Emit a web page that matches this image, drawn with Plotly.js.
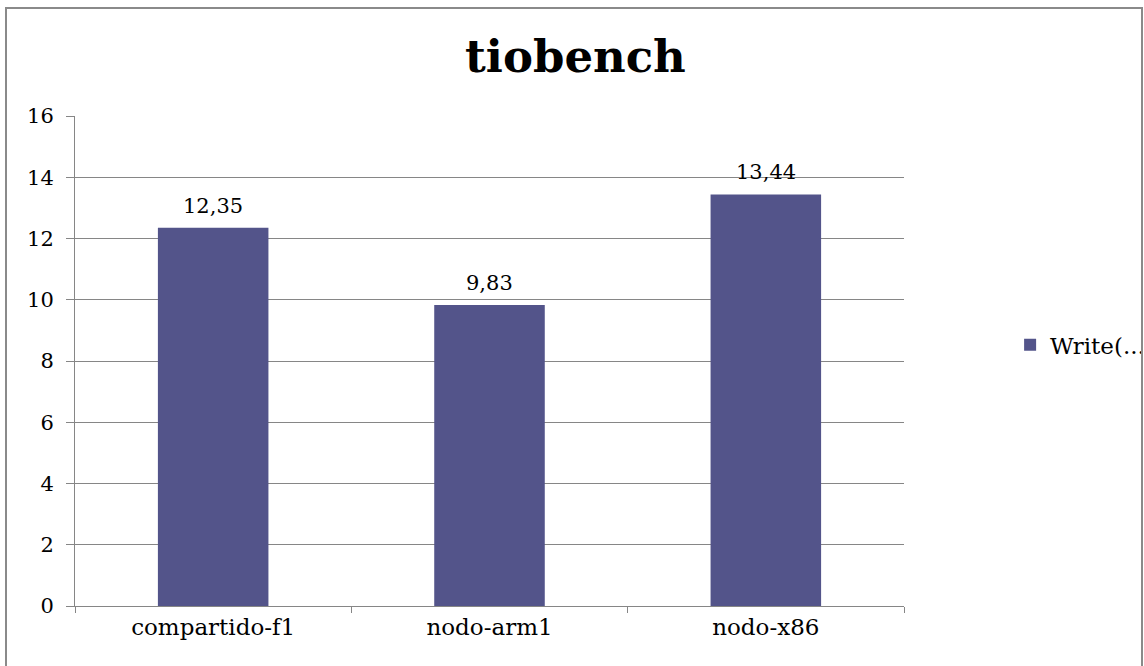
<!DOCTYPE html>
<html>
<head>
<meta charset="utf-8">
<script src="https://cdn.plot.ly/plotly-3.0.1.min.js"></script>
<style>
  html, body { margin: 0; padding: 0; background: #ffffff; }
  #wrap { position: relative; width: 1144px; height: 666px; overflow: hidden; }
  #chart { width: 1144px; height: 666px; }
  #frame {
    position: absolute; left: 5px; top: 7px; width: 1134px; height: 700px;
    border: 2px solid #8a8a8a; pointer-events: none;
  }
  #mask {
    position: absolute; left: 1141px; top: 0; width: 10px; height: 666px;
    background: #ffffff; pointer-events: none;
  }
</style>
</head>
<body>
<div id="wrap">
  <div id="chart"></div>
  <div id="mask"></div>
  <div id="frame"></div>
</div>
<script>
// tiobench write throughput per node
const categories = ['compartido-f1', 'nodo-arm1', 'nodo-x86'];
const writeValues = [12.35, 9.83, 13.44];
const seriesName = 'Write(...';
const yTicks = [0, 2, 4, 6, 8, 10, 12, 14, 16];

const serif = 'Georgia, "DejaVu Serif", serif';
const barColor = '#53548a';
const lineColor = '#868686';

const trace = {
  type: 'bar',
  x: categories,
  y: writeValues,
  name: seriesName,
  marker: { color: barColor },
  showlegend: true,
  hoverinfo: 'none'
};

// value labels sit just above each bar
const labels = categories.map((c, i) => ({
  x: c,
  y: writeValues[i],
  text: writeValues[i].toFixed(2).replace('.', ','),
  showarrow: false,
  yanchor: 'bottom',
  yshift: 8,
  font: { family: serif, size: 21, color: '#000000' }
}));

const layout = {
  width: 1144,
  height: 666,
  margin: { l: 75, r: 240, t: 116, b: 60, autoexpand: false },
  paper_bgcolor: '#ffffff',
  plot_bgcolor: '#ffffff',
  bargap: 0.6,
  title: {
    text: '<b>tiobench</b>',
    font: { family: serif, size: 45, color: '#000000' },
    x: 0.503, xanchor: 'center',
    y: 0.915, yanchor: 'middle'
  },
  xaxis: {
    type: 'category',
    showline: true,
    linecolor: lineColor,
    linewidth: 1,
    ticks: 'outside',
    tickson: 'boundaries',
    ticklen: 6,
    tickcolor: lineColor,
    showgrid: false,
    tickfont: { family: serif, size: 23, color: '#000000' }
  },
  yaxis: {
    range: [0, 16],
    tickvals: yTicks,
    ticktext: yTicks.map(String),
    showline: true,
    linecolor: lineColor,
    linewidth: 1,
    ticks: 'outside',
    ticklen: 8,
    tickcolor: lineColor,
    showgrid: true,
    gridcolor: lineColor,
    gridwidth: 1,
    zeroline: false,
    ticklabelstandoff: 8,
    tickfont: { family: serif, size: 21, color: '#000000' }
  },
  legend: {
    x: 1.128, y: 0.533,
    xanchor: 'left', yanchor: 'middle',
    font: { family: serif, size: 23, color: '#000000' },
    bgcolor: 'rgba(0,0,0,0)'
  },
  annotations: labels
};

Plotly.newPlot('chart', [trace], layout, { staticPlot: true, displayModeBar: false });
</script>
</body>
</html>
